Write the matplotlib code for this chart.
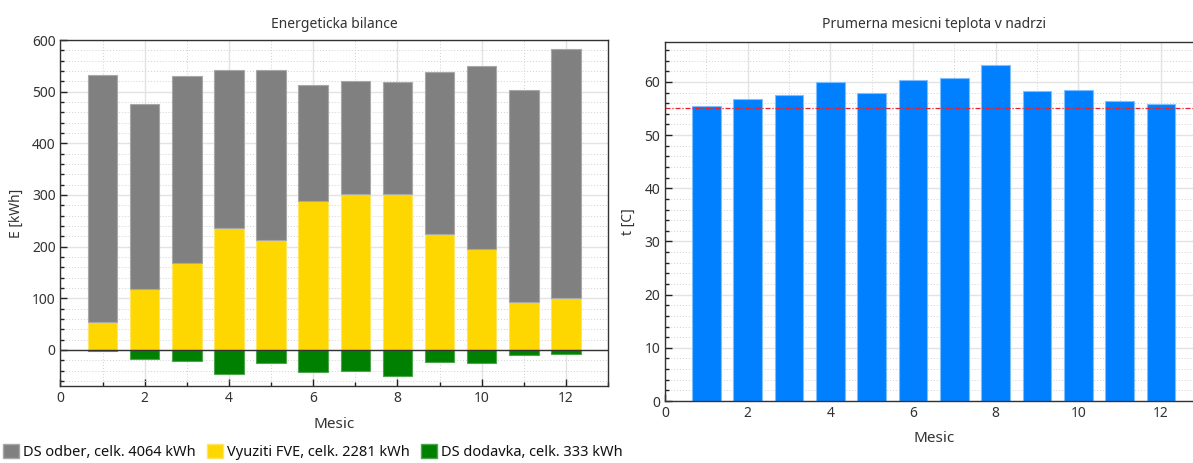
import matplotlib
matplotlib.use("Agg")
import matplotlib.pyplot as plt
import numpy as np
from matplotlib.ticker import MultipleLocator
from matplotlib.patches import Patch

plt.rcParams["font.family"] = ["Noto Sans", "DejaVu Sans"]
plt.rcParams["font.size"] = 9

# Data
mesic = [1, 2, 3, 4, 5, 6, 7, 8, 9, 10, 11, 12]
fve = [54, 117, 168, 235, 212, 289, 302, 301, 225, 195, 93, 101]
ds_odber = [479, 359, 363, 306, 329, 223, 218, 217, 314, 354, 411, 481]
ds_dodavka = [-3, -17, -21, -46, -26, -42, -40, -50, -24, -26, -10, -8]
teplota = [55.5, 56.8, 57.5, 60.0, 57.9, 60.3, 60.7, 63.2, 58.2, 58.5, 56.4, 55.9]
limit_teplota = 55

legend_labels = ["DS odber, celk. 4064 kWh", "Vyuziti FVE, celk. 2281 kWh",
                 "DS dodavka, celk. 333 kWh"]

c_gray = "#808080"
c_yellow = "#FFD700"
c_green = "#008000"
c_blue = "#0080FF"
txt = "#333333"


def style_axes(ax, ymajor, yminor):
    ax.xaxis.set_major_locator(MultipleLocator(2))
    ax.xaxis.set_minor_locator(MultipleLocator(1))
    ax.yaxis.set_major_locator(MultipleLocator(ymajor))
    ax.yaxis.set_minor_locator(MultipleLocator(yminor))
    ax.grid(which="major", color="#e3e3e3", linewidth=1.0)
    ax.grid(which="minor", color="#d0d0d0", linewidth=0.7, linestyle=(0, (1, 2)))
    ax.set_axisbelow(True)
    ax.tick_params(which="both", direction="in", top=False, right=False,
                   colors="#222222", labelcolor=txt, labelsize=10)
    ax.tick_params(which="major", length=5, width=1)
    ax.tick_params(which="minor", length=3, width=1)
    for s in ax.spines.values():
        s.set_color("#333333")
        s.set_linewidth(1.0)


fig = plt.figure(figsize=(11.93, 4.63), dpi=100)

# Left: energy balance
ax1 = fig.add_axes([0.0507, 0.1663, 0.459, 0.7473])
x = np.array(mesic)
ax1.bar(x, fve, width=0.7, color=c_yellow, edgecolor="#FFE566", linewidth=0.8)
ax1.bar(x, ds_odber, width=0.7, bottom=fve, color=c_gray, edgecolor="#a8a8a8", linewidth=0.8)
ax1.bar(x, ds_dodavka, width=0.7, color=c_green, edgecolor="#4da64d", linewidth=0.8)
ax1.axhline(0, color="#333333", linewidth=1.0)
ax1.set_xlim(0, 13)
ax1.set_ylim(-70, 600)
style_axes(ax1, 100, 20)
ax1.set_title("Energeticka bilance", fontsize=10, color=txt, pad=9)
ax1.set_xlabel("Mesic", fontsize=11, color=txt, labelpad=8)
ax1.set_ylabel("E [kWh]", fontsize=10, color=txt, labelpad=6)

# Right: average monthly temperature
ax2 = fig.add_axes([0.5574, 0.1339, 0.4504, 0.7754])
ax2.bar(x, teplota, width=0.7, color=c_blue, edgecolor="#80bfff", linewidth=0.8)
ax2.axhline(limit_teplota, color="#e8202a", linewidth=0.9, linestyle=(0, (4, 1.5, 1, 1.5)))
ax2.set_xlim(0, 13)
ax2.set_ylim(0, 67.5)
style_axes(ax2, 10, 2)
ax2.spines["right"].set_visible(False)
ax2.set_title("Prumerna mesicni teplota v nadrzi", fontsize=10, color=txt, pad=10)
ax2.set_xlabel("Mesic", fontsize=11, color=txt, labelpad=7)
ax2.set_ylabel("t [C]", fontsize=10, color=txt, labelpad=6)

handles = [Patch(facecolor=c_gray, edgecolor="#a8a8a8"),
           Patch(facecolor=c_yellow, edgecolor="#FFE566"),
           Patch(facecolor=c_green, edgecolor="#4da64d")]
fig.legend(handles, legend_labels, loc="lower left", bbox_to_anchor=(0.0, 0.0),
           ncol=3, frameon=False, fontsize=10.5, handlelength=1.1, handleheight=1.1,
           handletextpad=0.25, columnspacing=0.8, borderaxespad=0.0, borderpad=0.2,
           labelcolor="#111111")

fig.savefig("out.png", dpi=100)
